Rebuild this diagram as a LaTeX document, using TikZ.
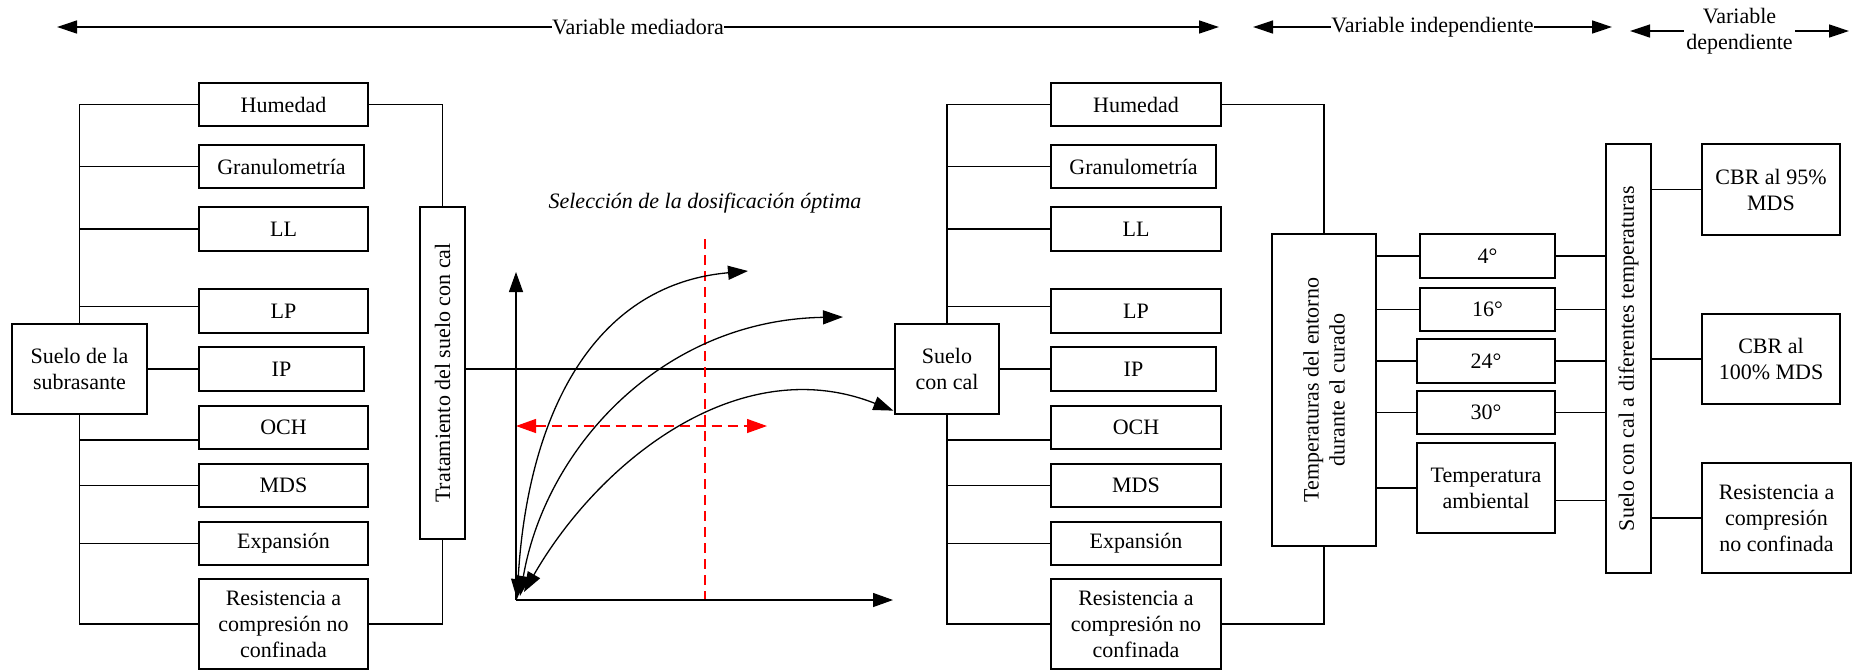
\documentclass[tikz,border=0pt]{standalone}
\usepackage{fontspec}
\setmainfont{Liberation Serif}
\usetikzlibrary{arrows.meta,calc}
\newcommand{\labelsize}{\fontsize{22}{26}\selectfont}
\definecolor{dashred}{RGB}{255,0,0}

\begin{document}
\begin{tikzpicture}[x=1pt,y=-1pt,font=\labelsize,line width=1.3pt,
  bx/.style 2 args={draw,rectangle,inner sep=0pt,align=center,
                    minimum width=#1pt,minimum height=#2pt},
  tipbig/.style={-{Triangle[length=20pt,width=13pt]}},
  span/.style={{Triangle[length=20pt,width=13pt]}-{Triangle[length=20pt,width=13pt]}},
  axisarrow/.style={-{Triangle[length=20pt,width=14pt]}},
  growth/.style={{Triangle[length=20pt,width=14pt]}-{Triangle[length=20pt,width=14pt]}},
  reddash/.style={draw=dashred,dash pattern=on 10pt off 6pt},
  redspan/.style={reddash,{Triangle[length=20pt,width=14pt,fill=dashred]}-{Triangle[length=20pt,width=14pt,fill=dashred]}},
  tag/.style={fill=white,inner sep=0.5pt,align=center}]

\useasboundingbox (0,0) rectangle (1852,670);

% ---------- headings with double arrows ----------
\coordinate (m0) at (57,27);
\coordinate (m1) at (1219,27);
\draw[span] (m0) -- node[tag] (mlbl) {Variable mediadora} (m1);
\coordinate (i0) at (1253,27);
\coordinate (i1) at (1612,27);
\draw[span] (i0) -- node[tag] (ilbl) {Variable independiente} (i1);
\coordinate (d0) at (1630,31);
\coordinate (d1) at (1849,31);
\draw[span] (d0) -- node[tag,inner sep=2pt] (dlbl) {Variable\\dependiente} (d1);

% ---------- subgrade soil and its properties ----------
\node[bx={135}{90}] (sub) at (79.5,369) {Suelo de la\\subrasante};
\node[bx={169}{43}] (hum1) at (283.5,104.5) {Humedad};
\node[bx={165}{43}] (gra1) at (281.5,166.5) {Granulometría};
\node[bx={169}{44}] (ll1) at (283.5,229) {LL};
\node[bx={169}{44}] (lp1) at (283.5,311) {LP};
\node[bx={165}{44}] (ip1) at (281.5,369) {IP};
\node[bx={169}{43}] (och1) at (283.5,427.5) {OCH};
\node[bx={169}{43}] (mds1) at (283.5,485.5) {MDS};
\node[bx={169}{43}] (exp1) at (283.5,543.5) {Expansión};
\node[bx={169}{90}] (res1) at (283.5,624) {Resistencia a\\compresión no\\confinada};
\node[bx={45}{332}] (trat) at (442.5,373) {};
\node[rotate=90] (tratlbl) at (trat.center) {Tratamiento del suelo con cal};

\draw (hum1.west) -| (sub.north);
\draw (res1.west) -| (sub.south);
\draw (gra1.west) -- (gra1.west -| sub.north);
\draw (ll1.west) -- (ll1.west -| sub.north);
\draw ($(lp1.west)+(0,-4.5)$) -- ($(lp1.west -| sub.north)+(0,-4.5)$);
\draw (sub.east) -- (ip1.west);
\draw ($(och1.west)+(0,12.5)$) -- ($(och1.west -| sub.south)+(0,12.5)$);
\draw (mds1.west) -- (mds1.west -| sub.south);
\draw (exp1.west) -- (exp1.west -| sub.south);
\draw (hum1.east) -| (trat.north);
\draw (res1.east) -| (trat.south);

% ---------- lime-treated soil and its properties ----------
\node[bx={104}{90}] (cal) at (947,369) {Suelo\\con cal};
\node[bx={170}{43}] (hum2) at (1136,104.5) {Humedad};
\node[bx={165}{43}] (gra2) at (1133.5,166.5) {Granulometría};
\node[bx={170}{44}] (ll2) at (1136,229) {LL};
\node[bx={170}{44}] (lp2) at (1136,311) {LP};
\node[bx={165}{44}] (ip2) at (1133.5,369) {IP};
\node[bx={170}{43}] (och2) at (1136,427.5) {OCH};
\node[bx={170}{43}] (mds2) at (1136,485.5) {MDS};
\node[bx={170}{43}] (exp2) at (1136,543.5) {Expansión};
\node[bx={170}{90}] (res2) at (1136,624) {Resistencia a\\compresión no\\confinada};
\node[bx={104}{312}] (temp) at (1324,390) {};
\node[rotate=90,align=center] (templbl) at (temp.center) {Temperaturas del entorno\\durante el curado};

\draw (cal.west) -- (cal.west -| trat.east);
\draw (hum2.west) -| (cal.north);
\draw (res2.west) -| (cal.south);
\draw (gra2.west) -- (gra2.west -| cal.north);
\draw (ll2.west) -- (ll2.west -| cal.north);
\draw ($(lp2.west)+(0,-4.5)$) -- ($(lp2.west -| cal.north)+(0,-4.5)$);
\draw (cal.east) -- (ip2.west);
\draw ($(och2.west)+(0,12.5)$) -- ($(och2.west -| cal.south)+(0,12.5)$);
\draw (mds2.west) -- (mds2.west -| cal.south);
\draw (exp2.west) -- (exp2.west -| cal.south);
\draw (hum2.east) -| (temp.north);
\draw (res2.east) -| (temp.south);

% ---------- curing temperatures ----------
\node[bx={135}{44}] (t4) at (1487.5,256) {4°};
\node[bx={135}{43}] (t16) at (1487.5,309.5) {16°};
\node[bx={138}{44}] (t24) at (1486,361) {24°};
\node[bx={138}{43}] (t30) at (1486,412.5) {30°};
\node[bx={138}{90}] (tamb) at (1486,488) {Temperatura\\ambiental};
\node[bx={45}{429}] (dif) at (1628.5,358.5) {};
\node[rotate=90] (diflbl) at (dif.center) {Suelo con cal a diferentes temperaturas};

\foreach \t in {t4,t16,t24,t30,tamb}{
  \draw (\t.west) -- (\t.west -| temp.east);
}
\foreach \t in {t4,t16,t24,t30}{
  \draw (\t.east) -- (\t.east -| dif.west);
}
\draw ($(tamb.east)+(0,12.7)$) -- ($(tamb.east -| dif.west)+(0,12.7)$);

% ---------- measured responses ----------
\node[bx={138}{91}] (cbr95) at (1771,189.5) {CBR al 95\%\\MDS};
\node[bx={138}{90}] (cbr100) at (1771,359) {CBR al\\100\% MDS};
\node[bx={149}{110}] (ucs) at (1776.5,518) {Resistencia a\\compresión\\no confinada};
\foreach \r in {cbr95,cbr100,ucs}{
  \draw (\r.west) -- (\r.west -| dif.east);
}

% ---------- optimum lime content sketch ----------
\node[font=\labelsize\itshape] (optlbl) at (705,203) {Selección de la dosificación óptima};
\coordinate (O) at (516,600);
\coordinate (ytop) at (516,272);
\coordinate (xend) at (893,600);
\coordinate (v0) at (705,239);
\coordinate (v1) at (705,600);
\coordinate (h0) at (516,426);
\coordinate (h1) at (767,426);
\draw[reddash] (v0) -- (v1);
\draw[redspan] (h0) -- (h1);
\draw[axisarrow] (O) -- (ytop);
\draw[axisarrow] (O) -- (xend);

\coordinate (a0) at (517,599);
\coordinate (a1) at (748,271);
\coordinate (b0) at (520,596);
\coordinate (b1) at (843,317);
\coordinate (c0) at (524,592);
\coordinate (c1) at ($(cal.south west)+(-1,-4)$);
\draw[growth] (a0) .. controls (527,420) and (590,285) .. (a1);
\draw[growth] (b0) .. controls (545,450) and (660,320) .. (b1);
\draw[growth] (c0) .. controls (600,460) and (740,350) .. (c1);

\end{tikzpicture}
\end{document}
